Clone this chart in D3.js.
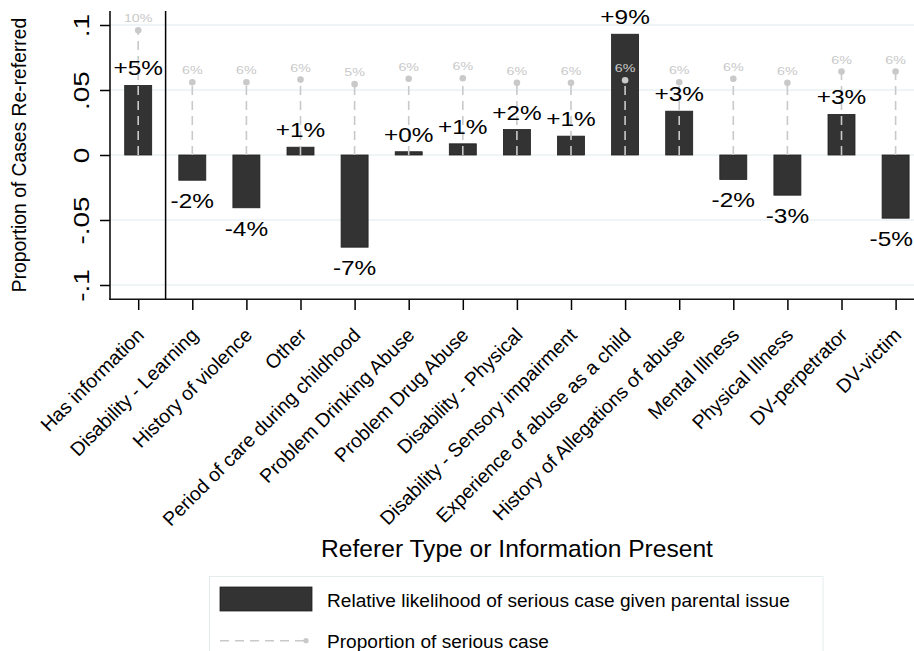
<!DOCTYPE html>
<html>
<head>
<meta charset="utf-8">
<script src="https://cdn.jsdelivr.net/npm/d3@7"></script>
<style>
  html, body { margin: 0; padding: 0; background: #fff; }
  svg { display: block; font-family: "Liberation Sans", Arial, Helvetica, sans-serif; }
</style>
</head>
<body>
<svg id="chart" width="914" height="651"></svg>
<script>
// Referer types / parental information flags
const categories = [
  "Has information",
  "Disability - Learning",
  "History of violence",
  "Other",
  "Period of care during childhood",
  "Problem Drinking Abuse",
  "Problem Drug Abuse",
  "Disability - Physical",
  "Disability - Sensory impairment",
  "Experience of abuse as a child",
  "History of Allegations of abuse",
  "Mental Illness",
  "Physical Illness",
  "DV-perpetrator",
  "DV-victim"
];

// Relative likelihood of serious case given parental issue (bars)
const relativeLikelihood = [
  0.0535, -0.0194, -0.0406, 0.0060, -0.0709, 0.0025, 0.0086, 0.0196,
  0.0145, 0.0929, 0.0337, -0.0188, -0.0309, 0.0312, -0.0486
];

// Proportion of serious case (dashed drop lines with dots)
const proportionSerious = [
  0.0960, 0.0560, 0.0560, 0.0580, 0.0545, 0.0586, 0.0590, 0.0555,
  0.0555, 0.0575, 0.0560, 0.0586, 0.0555, 0.0642, 0.0642
];

const yTickValues = [-0.1, -0.05, 0, 0.05, 0.1];
const yTickLabels = ["-.1", "-.05", "0", ".05", ".1"];

const legendLabels = [
  "Relative likelihood of serious case given parental issue",
  "Proportion of serious case"
];

const yTitle = "Proportion of Cases Re-referred";
const xTitle = "Referer Type or Information Present";

// ---- layout ----
const W = 914, H = 651;
const plot = { left: 110, right: 914, top: 11, bottom: 299.3 };

const svg = d3.select("#chart");
svg.append("rect").attr("width", W).attr("height", H).attr("fill", "#fff");

const y = d3.scaleLinear().domain([-0.1, 0.1]).range([285, 25]);
const x = d3.scalePoint().domain(categories).range([138.2, 895.6]);
const barW = 27;

const locale = d3.formatLocale({ decimal: ".", thousands: ",", grouping: [3], currency: ["", ""], minus: "-" });
const fmtSigned = locale.format("+.0%");
const fmtPct = locale.format(".0%");

const NUM_STRETCH = 1.24;
const GRAY = "#c9c9c9";

// grid lines
svg.append("g").selectAll("line").data(yTickValues).join("line")
  .attr("x1", plot.left).attr("x2", plot.right)
  .attr("y1", d => y(d)).attr("y2", d => y(d))
  .attr("stroke", "#eaf2f3").attr("stroke-width", 1.5);

// bars
svg.append("g").selectAll("rect").data(relativeLikelihood).join("rect")
  .attr("x", (d, i) => x(categories[i]) - barW / 2)
  .attr("width", barW)
  .attr("y", d => Math.min(y(d), y(0)))
  .attr("height", d => Math.abs(y(d) - y(0)))
  .attr("fill", "#333333")
  .attr("stroke", "#1e1e1e").attr("stroke-width", 0.8);

// dashed drop lines for proportion of serious case
const drops = svg.append("g");
drops.selectAll("line").data(proportionSerious).join("line")
  .attr("x1", (d, i) => x(categories[i])).attr("x2", (d, i) => x(categories[i]))
  .attr("y1", y(0)).attr("y2", d => y(d))
  .attr("stroke", GRAY).attr("stroke-width", 1.6)
  .attr("stroke-dasharray", "9,6");
drops.selectAll("circle").data(proportionSerious).join("circle")
  .attr("cx", (d, i) => x(categories[i])).attr("cy", d => y(d))
  .attr("r", 3.3).attr("fill", GRAY);
drops.selectAll("text").data(proportionSerious).join("text")
  .attr("transform", (d, i) => `translate(${x(categories[i])},${y(d) - 8}) scale(${NUM_STRETCH},1)`)
  .attr("text-anchor", "middle")
  .attr("font-size", 11.5)
  .attr("fill", GRAY)
  .text(d => fmtPct(d));

// bar value labels (kept inside the drawing area at the right edge)
const LBL_STRETCH = 1.22;
svg.append("g").selectAll("text").data(relativeLikelihood).join("text")
  .attr("text-anchor", "middle")
  .attr("font-size", 20)
  .attr("fill", "#000")
  .text(d => fmtSigned(d))
  .each(function (d, i) {
    const yy = d >= 0 ? y(d) - 10 : y(d) + 28;
    const half = this.getComputedTextLength() * LBL_STRETCH / 2;
    const cx = Math.min(x(categories[i]), W - 1 - half);
    d3.select(this).attr("transform", `translate(${cx},${yy}) scale(${LBL_STRETCH},1)`);
  });

// separator after the first group
svg.append("line")
  .attr("x1", 165.6).attr("x2", 165.6)
  .attr("y1", plot.top).attr("y2", plot.bottom)
  .attr("stroke", "#000").attr("stroke-width", 1.5);

// y axis
const yAxis = svg.append("g")
  .attr("transform", `translate(${plot.left},0)`)
  .call(d3.axisLeft(y).tickValues(yTickValues)
    .tickFormat((d, i) => yTickLabels[i]).tickSize(10).tickSizeOuter(0));
yAxis.select(".domain").remove();
yAxis.selectAll(".tick line").attr("stroke", "#000").attr("stroke-width", 1.5);
yAxis.selectAll(".tick text")
  .attr("x", null).attr("y", null).attr("dy", null)
  .attr("transform", `translate(-21,0) rotate(-90) scale(1.27,1)`)
  .attr("text-anchor", "middle")
  .attr("font-size", 22)
  .attr("font-family", null)
  .attr("fill", "#000");

// x axis
const xAxis = svg.append("g")
  .attr("transform", `translate(0,${plot.bottom})`)
  .call(d3.axisBottom(x).tickSize(10.7).tickSizeOuter(0));
xAxis.select(".domain").remove();
xAxis.selectAll(".tick line").attr("stroke", "#000").attr("stroke-width", 1.5);
xAxis.selectAll(".tick text")
  .attr("x", null).attr("y", null).attr("dy", null)
  .attr("transform", "translate(6.5,37) rotate(-45)")
  .attr("text-anchor", "end")
  .attr("font-size", 19.5)
  .attr("font-family", null)
  .attr("fill", "#000");

// axis lines
svg.append("line")
  .attr("x1", plot.left).attr("x2", plot.left)
  .attr("y1", plot.top).attr("y2", plot.bottom + 0.75)
  .attr("stroke", "#000").attr("stroke-width", 1.5);
svg.append("line")
  .attr("x1", plot.left - 0.75).attr("x2", plot.right)
  .attr("y1", plot.bottom).attr("y2", plot.bottom)
  .attr("stroke", "#111").attr("stroke-width", 1.5);

// axis titles
svg.append("text")
  .attr("transform", "translate(26,155) rotate(-90)")
  .attr("text-anchor", "middle")
  .attr("font-size", 19.3)
  .attr("fill", "#000")
  .text(yTitle);

svg.append("text")
  .attr("x", 517).attr("y", 557)
  .attr("text-anchor", "middle")
  .attr("font-size", 24.6)
  .attr("fill", "#000")
  .text(xTitle);

// legend
const lg = svg.append("g");
lg.append("rect")
  .attr("x", 209.5).attr("y", 576.5).attr("width", 613.5).attr("height", 90)
  .attr("fill", "#fff").attr("stroke", "#e4ecee").attr("stroke-width", 1);
lg.append("rect")
  .attr("x", 220).attr("y", 587).attr("width", 92).attr("height", 24)
  .attr("fill", "#333333").attr("stroke", "#1e1e1e").attr("stroke-width", 0.8);
lg.append("line")
  .attr("x1", 220).attr("x2", 306).attr("y1", 640.7).attr("y2", 640.7)
  .attr("stroke", GRAY).attr("stroke-width", 1.6).attr("stroke-dasharray", "9,6");
lg.append("circle").attr("cx", 306).attr("cy", 640.7).attr("r", 2.6).attr("fill", GRAY);
lg.selectAll("text.lab").data(legendLabels).join("text")
  .attr("class", "lab")
  .attr("x", 327).attr("y", (d, i) => [606.7, 648.3][i])
  .attr("font-size", 19.1)
  .attr("fill", "#000")
  .text(d => d);
</script>
</body>
</html>
